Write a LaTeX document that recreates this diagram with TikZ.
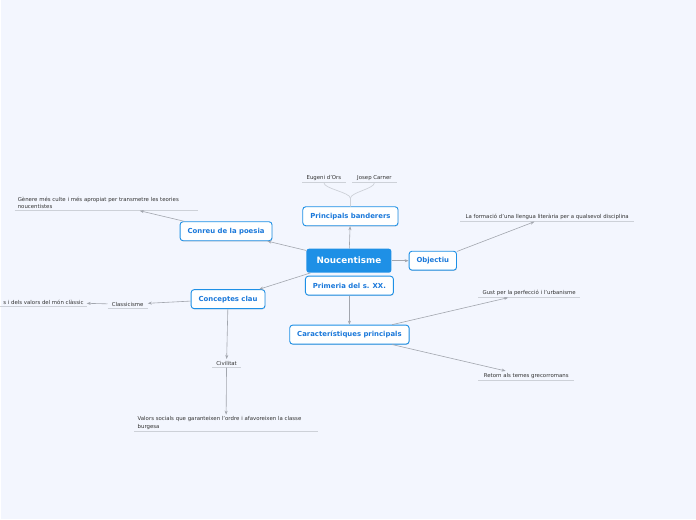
\documentclass[tikz,border=0pt]{standalone}
\usepackage{fontspec}
\setmainfont{DejaVu Sans}
\usepackage{xcolor}
\usepackage{tikz}
\usetikzlibrary{arrows.meta,shadows}
\definecolor{bgcol}{HTML}{F3F6FE}
\definecolor{mainblue}{HTML}{1E90E6}
\definecolor{textblue}{HTML}{1A78DA}
\definecolor{linkgray}{HTML}{A2A6AE}
\definecolor{linegray}{HTML}{CDD1D8}
\definecolor{leaftext}{HTML}{333333}

\begin{document}
\begin{tikzpicture}[x=1pt,y=-1pt,
  root/.style={fill=mainblue,rounded corners=2.5pt,text=white,font=\fontsize{8.8}{10}\selectfont\bfseries,minimum width=85pt,minimum height=24pt,inner sep=0pt},
  topic/.style={draw=mainblue,line width=0.9pt,fill=white,rounded corners=3pt,text=textblue,font=\fontsize{6.9}{8}\selectfont\bfseries,minimum height=19pt,inner xsep=7.5pt,inner ysep=0pt,drop shadow={shadow xshift=0.4pt,shadow yshift=-0.8pt,opacity=0.25}},
  leaf/.style={text=leaftext,font=\fontsize{5.4}{7.2}\selectfont,inner xsep=3pt,inner ysep=2pt,anchor=south},
  link/.style={draw=linkgray,line width=0.6pt,-{Stealth[length=4pt,width=3pt]}},
  uline/.style={draw=linegray,line width=0.6pt}]
\fill[bgcol] (0,0) rectangle (696,520);
% central topic and main branches
\node[root] (nouc) at (348.5,261) {Noucentisme};
\node[topic] (banderers) at (350,216.5) {Principals banderers};
\node[topic] (conreu) at (225.5,231.5) {Conreu de la poesia};
\node[topic] (objectiu) at (432.5,261) {Objectiu};
\node[topic] (primeria) at (349,286) {Primeria del s. XX.};
\node[topic] (caract) at (349,335) {Característiques principals};
\node[topic] (conceptes) at (227.5,299.5) {Conceptes clau};
% leaves
\node[leaf,minimum width=43pt] (eors) at (323.5,183) {Eugeni d'Ors};
\node[leaf,minimum width=44pt] (carner) at (374,183) {Josep Carner};
\node[leaf,text width=177pt,align=left] (genere) at (105.5,211) {Gènere més culte i més apropiat per transmetre les teories\\noucentistes};
\node[leaf,minimum width=174pt] (formacio) at (547,222) {La formació d'una llengua literària per a qualsevol disciplina};
\node[leaf,minimum width=102pt] (gust) at (529,298) {Gust per la perfecció i l'urbanisme};
\node[leaf,minimum width=96pt] (retorn) at (526,381) {Retorn als temes grecorromans};
\node[leaf,minimum width=40pt] (classic) at (127,309) {Classicisme};
\node[leaf,minimum width=86pt,anchor=south east] (valclassic) at (86,307) {s i dels valors del món clàssic};
\node[leaf,minimum width=28pt] (civilitat) at (226,368) {Civilitat};
\node[leaf,text width=177pt,align=left] (valors) at (225.5,432) {Valors socials que garanteixen l'ordre i afavoreixen la classe\\burgesa};
\foreach \n in {eors,carner,genere,formacio,gust,retorn,classic,valclassic,civilitat,valors}
  \draw[uline] (\n.south west) -- (\n.south east);
% connectors
\draw[link] (nouc) -- (banderers);
\draw[link] (nouc) -- (conreu);
\draw[link] (nouc) -- (objectiu);
\draw[link] (nouc) -- (conceptes);
\draw[link] (conreu) -- (genere);
\draw[link] (objectiu) -- (formacio);
\draw[link] (primeria) -- (caract);
\draw[link] (caract) -- (gust);
\draw[link] (caract) -- (retorn);
\draw[link] (conceptes) -- (classic);
\draw[link] (classic) -- (valclassic);
\draw[link] (conceptes) -- (civilitat);
\draw[link] (civilitat) -- (valors);
\draw[draw=linegray,line width=0.7pt] (banderers.north) -- ++(0,-8) .. controls +(0,-6) and +(0,6) .. (eors.south);
\draw[draw=linegray,line width=0.7pt] (banderers.north) -- ++(0,-8) .. controls +(0,-6) and +(0,6) .. (carner.south);
\end{tikzpicture}
\end{document}
